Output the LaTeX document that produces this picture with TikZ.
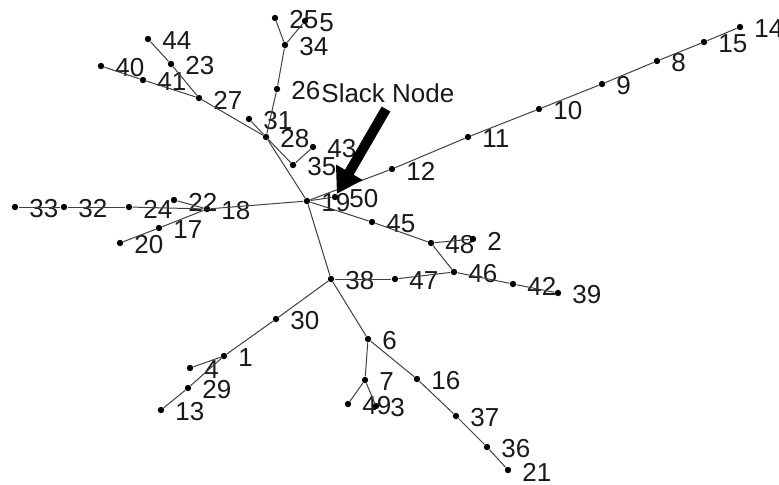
\documentclass[tikz,border=0pt]{standalone}
\usepackage{fontspec}
\setmainfont{Liberation Sans}
\usetikzlibrary{arrows.meta}

\begin{document}
\begin{tikzpicture}[x=0.5pt,y=-0.5pt,
 bus/.style={circle,fill=black,inner sep=0pt,minimum size=3.2pt},
 num/.style={anchor=west,inner sep=0pt,text=black!90,font=\fontsize{13}{15}\selectfont},
 branch/.style={draw=black!75,line width=0.5pt}]
\useasboundingbox (0,0) rectangle (779,484);
% buses with their numbers
\foreach \n/\x/\y in {19/307/201,50/335/197,12/392/169,11/468/137,10/539/109,9/602/84,8/657/61,15/704/42,14/740/27,
 45/372/222,48/431/243,2/473/239,46/454/272,42/513/284,39/558/293,47/395/279,38/331/279,
 30/276/319,1/224/356,4/190/368,29/188/388,13/161/410,6/368/339,7/365/380,49/348/404,3/376/406,
 16/417/379,37/456/416,36/487/447,21/508/470,18/207/209,22/174/200,24/129/207,32/64/207,33/15/207,
 17/159/228,20/120/243,28/266/137,35/293/165,43/313/147,31/249/119,27/199/98,41/143/80,40/101/66,
 23/171/64,44/148/39,26/277/89,34/285/45,25/275/18,5/305/21}{
 \node[bus] (b\n) at (\x,\y) {};
 \node[num] (t\n) at (\x+14,\y+2) {\n};
}
% branches
\foreach \a/\b in {19/50,19/12,12/11,11/10,10/9,9/8,8/15,15/14,
 19/45,45/48,48/2,48/46,46/42,42/39,19/38,38/47,47/46,
 38/30,30/1,1/4,1/29,29/13,38/6,6/7,7/49,7/3,6/16,16/37,37/36,36/21,
 19/18,18/24,24/32,32/33,18/22,18/17,17/20,
 19/28,28/35,35/43,28/31,28/27,27/41,41/40,27/23,23/44,28/26,26/34,34/25,34/5}{\draw[branch] (b\a)--(b\b);}
% slack marker
\node[num] (slack) at (321,93) {Slack Node};
\coordinate (tail) at (386,109);
\draw[line width=5pt,-{Triangle[length=12.5pt,width=14.5pt]}] (tail)--(b50);
\end{tikzpicture}
\end{document}
